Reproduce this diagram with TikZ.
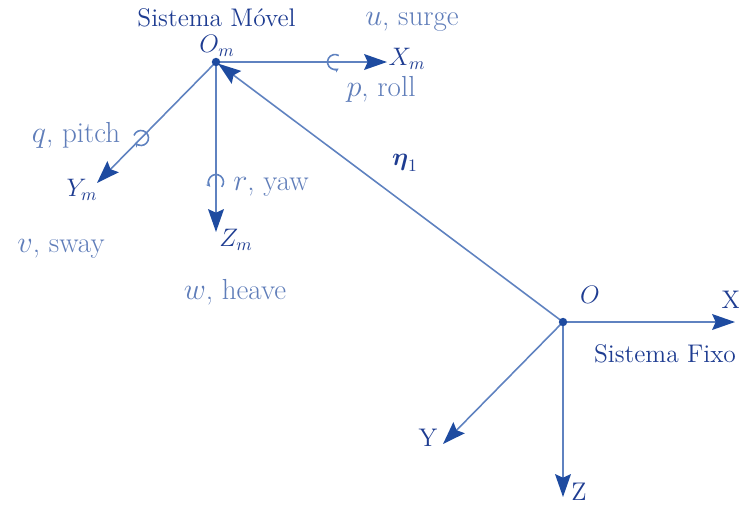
\documentclass[tikz,border=0pt]{standalone}
\usepackage{amsmath,amssymb}
\usepackage{tikz}
\usetikzlibrary{arrows.meta, positioning, calc}
\definecolor{axisblue}{RGB}{95, 130, 192}
\definecolor{tipblue}{RGB}{30, 75, 160}
\definecolor{labelblue}{RGB}{30, 60, 145}
\definecolor{softblue}{RGB}{95, 125, 185}

\begin{document}
\begin{tikzpicture}[
  axisline/.style={axisblue, line width=0.9pt, -{Stealth[length=13pt, width=9pt, inset=2pt, color=tipblue]}},
  rotmark/.style={axisblue, line width=0.9pt, -{Stealth[length=2.5pt, width=2.5pt]}},
  axlabel/.style={labelblue, inner sep=0.5pt, font=\fontsize{14.5}{17}\selectfont},
  dof/.style={softblue, inner sep=0.5pt, font=\fontsize{16.5}{19}\selectfont},
  sysname/.style={labelblue, inner sep=0.5pt, font=\fontsize{14.5}{17}\selectfont},
]
  \useasboundingbox (0,0) rectangle (14.78,-10.12);

  % 原点
  \coordinate (Om) at (4.32,-1.24);
  \coordinate (O) at (11.26,-6.44);

  % 轴端点
  \coordinate (Xm) at (7.74,-1.24);
  \coordinate (Ym) at (1.94,-3.66);
  \coordinate (Zm) at (4.32,-4.64);
  \coordinate (X) at (14.70,-6.44);
  \coordinate (Y) at (8.86,-8.88);
  \coordinate (Z) at (11.26,-9.94);

  % 移动坐标系
  \draw[axisline] (Om) -- (Xm);
  \draw[axisline] (Om) -- (Ym);
  \draw[axisline] (Om) -- (Zm);

  % 固定坐标系
  \draw[axisline] (O) -- (X);
  \draw[axisline] (O) -- (Y);
  \draw[axisline] (O) -- (Z);

  % 位置向量
  \draw[axisline, shorten >=1.5pt] (O) -- (Om);

  \fill[tipblue] (Om) circle (2.4pt);
  \fill[tipblue] (O) circle (2.4pt);

  % 旋转标记
  \coordinate (rollc) at (6.70,-1.24);
  \coordinate (pitchc) at (2.82,-2.76);
  \coordinate (yawc) at (4.32,-3.64);
  \draw[rotmark] (rollc) ++(60:0.15) arc[start angle=60, end angle=300, radius=0.15];
  \draw[rotmark] (pitchc) ++(160:0.15) arc[start angle=160, end angle=-140, radius=0.15];
  \draw[rotmark] (yawc) ++(-40:0.15) arc[start angle=-40, end angle=220, radius=0.15];

  % 标注
  \node[sysname] (movel) at (4.33,-0.36) {Sistema Móvel};
  \node[sysname] (fixo) at (13.30,-7.08) {Sistema Fixo};
  \node[axlabel] (lOm) at (4.34,-0.91) {$O_m$};
  \node[axlabel] (lXm) at (8.14,-1.17) {$X_m$};
  \node[axlabel] (lYm) at (1.64,-3.80) {$Y_m$};
  \node[axlabel] (lZm) at (4.72,-4.80) {$Z_m$};
  \node[axlabel] (lO) at (11.80,-5.90) {$O$};
  \node[axlabel] (lX) at (14.62,-6.00) {X};
  \node[axlabel] (lY) at (8.56,-8.76) {Y};
  \node[axlabel] (lZ) at (11.58,-9.84) {Z};
  \node[axlabel] (eta) at (8.10,-3.26) {$\boldsymbol{\eta}_1$};

  \node[dof] (surge) at (8.24,-0.44) {$u$, surge};
  \node[dof] (roll) at (7.62,-1.78) {$p$, roll};
  \node[dof] (pitch) at (1.52,-2.70) {$q$, pitch};
  \node[dof] (yaw) at (5.42,-3.74) {$r$, yaw};
  \node[dof] (sway) at (1.22,-4.98) {$v$, sway};
  \node[dof] (heave) at (4.70,-5.84) {$w$, heave};
\end{tikzpicture}
\end{document}
